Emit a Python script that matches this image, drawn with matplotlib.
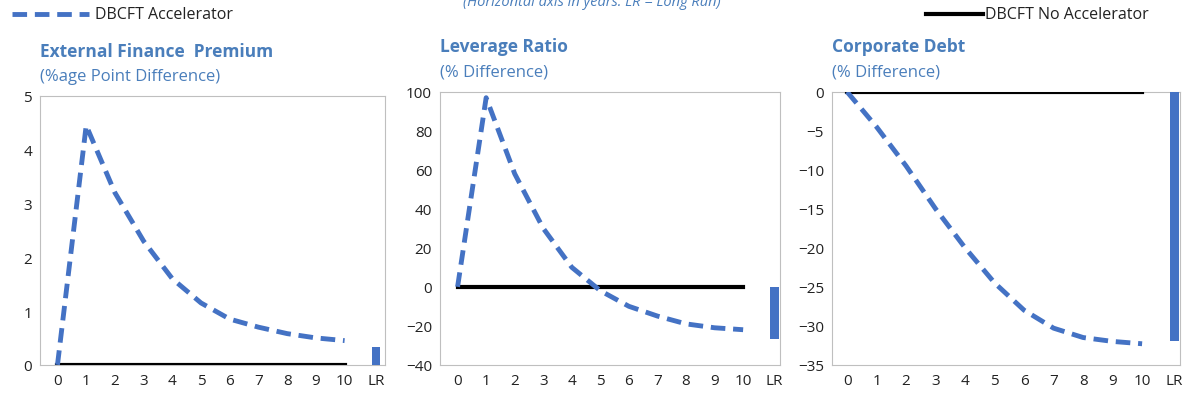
import matplotlib.pyplot as plt

plt.rcParams['font.family'] = ['Open Sans', 'DejaVu Sans']

years = list(range(11))
xlabels = [str(i) for i in years] + ['LR']
efp_acc = [0, 4.45, 3.2, 2.3, 1.6, 1.15, 0.85, 0.7, 0.58, 0.5, 0.45]
efp_lr = 0.33
lev_acc = [0, 97, 58, 30, 10, -2, -10, -15, -19, -21, -22]
lev_lr = -27
debt_acc = [0, -4.5, -9.5, -15, -20, -24.5, -28, -30.3, -31.5, -32, -32.3]
debt_lr = -32
noacc = [0] * 11

blue = '#4472C4'
title_c = '#4a7ebb'

fig = plt.figure(figsize=(11.84, 4.02), dpi=100)
specs = [
    ([0.034, 0.09, 0.291, 0.669], efp_acc, efp_lr, (0, 5), range(0, 6), (-0.6, 11.4),
     'External Finance  Premium', '(%age Point Difference)'),
    ([0.372, 0.09, 0.287, 0.679], lev_acc, lev_lr, (-40, 100), range(-40, 101, 20), (-0.6, 11.3),
     'Leverage Ratio', '(% Difference)'),
    ([0.703, 0.09, 0.294, 0.679], debt_acc, debt_lr, (-35, 0), range(-35, 1, 5), (-0.5, 11.3),
     'Corporate Debt', '(% Difference)'),
]
LRX = 11.1
for rect, acc, lr, ylim, yt, xlim, t1, t2 in specs:
    ax = fig.add_axes(rect)
    ax.plot(years, noacc, color='black', lw=3, zorder=3)
    ax.plot(years, acc, color=blue, lw=3.5, ls=(0, (3, 1.6)), zorder=4)
    ax.bar([LRX], [lr], width=0.3, color=blue, zorder=3)
    ax.set_ylim(*ylim)
    ax.set_xlim(*xlim)
    ax.set_yticks(list(yt))
    ax.set_xticks(years + [LRX])
    ax.set_xticklabels(xlabels)
    ax.tick_params(length=0, labelsize=11, colors='#222222', pad=6)
    for s in ax.spines.values():
        s.set_color('#bfbfbf')
    ax.text(0, 1.135, t1, transform=ax.transAxes, color=title_c, fontsize=12.5,
            fontweight='bold', va='bottom')
    ax.text(0, 1.045, t2, transform=ax.transAxes, color=title_c, fontsize=12, va='bottom')

fig.lines.append(plt.Line2D([0.01, 0.075], [0.963, 0.963], transform=fig.transFigure,
                            color=blue, lw=3.5, ls=(0, (3, 1.6))))
fig.text(0.08, 0.963, 'DBCFT Accelerator', fontsize=11.5, va='center', color='#222222')
fig.lines.append(plt.Line2D([0.782, 0.83], [0.963, 0.963], transform=fig.transFigure,
                            color='black', lw=3))
fig.text(0.832, 0.963, 'DBCFT No Accelerator', fontsize=11.5, va='center', color='#222222')
fig.text(0.5, 0.995, '(Horizontal axis in years. LR = Long Run)', fontsize=10.5,
         style='italic', color=title_c, ha='center', va='center')

fig.savefig('out.png', dpi=100)
